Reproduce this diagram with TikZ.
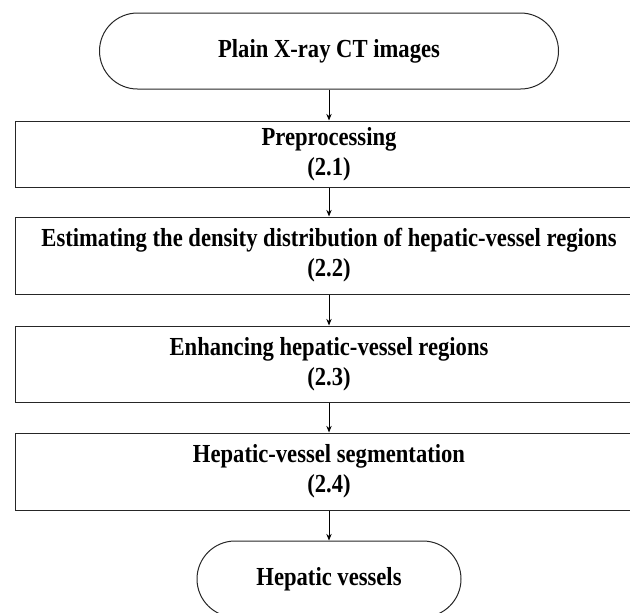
\documentclass[tikz,border=0pt]{standalone}
\usepackage{fontspec}
\setmainfont[FakeStretch=0.87]{Liberation Serif}
\usetikzlibrary{arrows.meta}
\tikzset{
  flowtext/.style={font=\bfseries\fontsize{19.5}{22.5}\selectfont, align=center, text=black},
  procnode/.style={flowtext, draw=black!85, line width=0.75pt, rectangle, minimum width=628*0.75pt, inner sep=0pt},
  termnode/.style={flowtext, draw=black!85, line width=0.75pt, rectangle, rounded corners=28.5pt, minimum height=76*0.75pt, inner sep=0pt},
  flowarrow/.style={draw=black, line width=0.75pt, -{Stealth[length=5pt,width=4pt]}}
}
\newcommand{\procbox}[4]{\node[procnode, minimum height=#3*0.75pt] (#1) at ( 329 , #2 ) {#4};}
\newcommand{\termbox}[4]{\node[termnode, minimum width=#3*0.75pt] (#1) at ( 329 , #2 ) {#4};}
\newcommand{\flowlink}[2]{\draw[flowarrow] (#1) -- (#2);}
\begin{document}
\begin{tikzpicture}[x=0.75pt, y=-0.75pt]
\useasboundingbox (0,0) rectangle (630,612);
% start and end
\termbox{ctin}{51}{459}{Plain X-ray CT images}
\termbox{vesout}{579}{264}{Hepatic vessels}
% steps of the method
\procbox{prep}{154}{66}{Preprocessing\\(2.1)}
\procbox{dens}{255.5}{77}{Estimating the density distribution of hepatic-vessel regions\\(2.2)}
\procbox{enh}{364}{76}{Enhancing hepatic-vessel regions\\(2.3)}
\procbox{seg}{471.5}{77}{Hepatic-vessel segmentation\\(2.4)}
% arrows
\flowlink{ctin}{prep}
\flowlink{prep}{dens}
\flowlink{dens}{enh}
\flowlink{enh}{seg}
\flowlink{seg}{vesout}
\end{tikzpicture}
\end{document}
